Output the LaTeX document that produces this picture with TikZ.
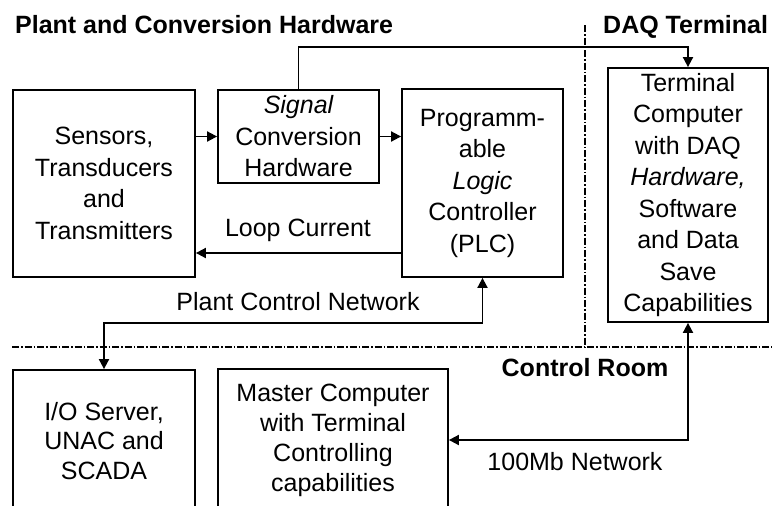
\documentclass[tikz,border=0pt]{standalone}
\usepackage{fontspec}
\setmainfont{Liberation Sans}
\usetikzlibrary{arrows.meta}
\begin{document}
\begin{tikzpicture}[x=1pt,y=-1pt,
  box/.style={draw,line width=1.8pt,inner sep=0pt,align=center,
    font=\fontsize{25}{31.5}\selectfont},
  lbl/.style={inner sep=0pt,font=\fontsize{25}{30}\selectfont},
  head/.style={inner sep=0pt,font=\fontsize{25}{30}\selectfont\bfseries},
  link/.style={line width=1.8pt,-{Triangle[length=10pt,width=10pt]}},
  link2/.style={line width=1.8pt,{Triangle[length=10pt,width=10pt]}-{Triangle[length=10pt,width=10pt]}},
  zone/.style={line width=1.3pt,dash pattern=on 7pt off 2pt on 1.5pt off 2pt}]
\clip (0,0) rectangle (772,506);
\fill[white] (0,0) rectangle (772,506);

% area headings
\node[head,anchor=base west] (hplant) at (15,33) {Plant and Conversion Hardware};
\node[head,anchor=base west] (hdaq) at (603,33) {DAQ Terminal};
\node[head] (hroom) at (585,368) {Control Room};

% area boundaries
\coordinate (vtop) at (585,25);
\coordinate (vbot) at (585,347);
\coordinate (hleft) at (12,347);
\coordinate (hright) at (772,347);
\draw[zone] (vtop) -- (vbot);
\draw[zone] (hleft) -- (hright);

% blocks
\node[box,minimum width=182,minimum height=187] (sensors) at (104,183.5)
  {Sensors,\\Transducers\\and\\Transmitters};
\node[box,minimum width=161,minimum height=93] (signal) at (298.5,136.5)
  {\itshape Signal\\Conversion\\Hardware};
\node[box,minimum width=161,minimum height=188] (plc) at (482.5,183)
  {Programm-\\able\\\itshape Logic\\Controller\\(PLC)};
\node[box,minimum width=160,minimum height=254] (terminal) at (688,195)
  {Terminal\\Computer\\with DAQ\\\itshape Hardware,\\Software\\and Data\\Save\\Capabilities};
\node[box,minimum width=182,minimum height=142,
  font=\fontsize{25}{29.5}\selectfont] (io) at (104,441)
  {I/O Server,\\UNAC and\\SCADA};
\node[box,minimum width=230,minimum height=142,
  font=\fontsize{25}{30}\selectfont] (master) at (333,440)
  {Master Computer\\with Terminal\\Controlling\\capabilities};

% connectors
\draw[link] (sensors.east |- signal.west) -- (signal.west);
\draw[link] (signal.east) -- (plc.west |- signal.east);
\draw[link] (plc.west |- 0,253) -- (sensors.east |- 0,253);
\draw[link] (signal.north) -- (signal.north |- 0,47) -| (terminal.north);
\draw[link2] (plc.south) -- (plc.south |- 0,323) -| (io.north);
\draw[link2] (terminal.south) |- (master.east);

% connector labels
\node[lbl] (loop) at (298,230) {Loop Current};
\node[lbl] (pcn) at (298,302) {Plant Control Network};
\node[lbl] (net) at (575,462) {100Mb Network};
\end{tikzpicture}
\end{document}
